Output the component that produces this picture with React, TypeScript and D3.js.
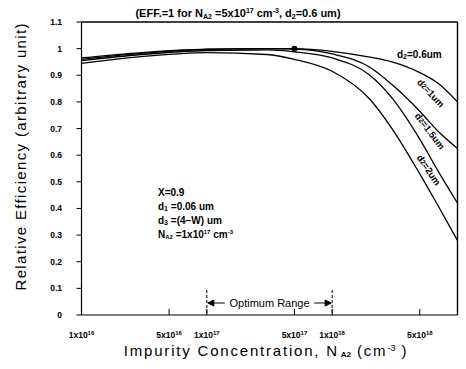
import React from "react";
import * as d3 from "d3";

const conc = [1e16, 3e16, 1e17, 3e17, 5e17, 1e18, 2e18, 3e18, 5e18, 7e18, 1e19];
const eff06 = [0.965, 0.985, 0.998, 1.0, 1.0, 0.99, 0.968, 0.95, 0.91, 0.87, 0.8];
const eff10 = [0.96, 0.982, 0.997, 1.0, 0.998, 0.98, 0.93, 0.865, 0.765, 0.69, 0.625];
const eff15 = [0.955, 0.978, 0.993, 0.995, 0.988, 0.965, 0.9, 0.815, 0.66, 0.54, 0.42];
const eff20 = [0.945, 0.97, 0.985, 0.978, 0.96, 0.915, 0.81, 0.7, 0.53, 0.41, 0.28];

const yTicks = [0, 0.1, 0.2, 0.3, 0.4, 0.5, 0.6, 0.7, 0.8, 0.9, 1, 1.1];
const xTickVals = [1e16, 5e16, 1e17, 5e17, 1e18, 5e18];
const xTickMant = ["1", "5", "1", "5", "1", "5"];
const xTickExp = ["16", "16", "17", "17", "18", "18"];
const refPoint = { n: 5e17, v: 1.0 };
const optimum = [1e17, 1e18];

const W = 466, H = 369;
const L = 81.5, R = 457.5, T = 22, B = 315;

export default function App() {
  const x = d3.scaleLog().domain([1e16, 1e19]).range([L, R]);
  const y = d3.scaleLinear().domain([0, 1.1]).range([B, T]);
  const line = d3
    .line<[number, number]>()
    .x((d) => x(d[0]))
    .y((d) => y(d[1]))
    .curve(d3.curveMonotoneX);
  const series = [eff06, eff10, eff15, eff20];
  const font = "'Liberation Sans', Arial, sans-serif";
  const tf = { fontFamily: font, fontWeight: 700, fontSize: 8.5 } as const;
  const lab = { fontFamily: font, fontSize: 9.5, fontWeight: 700, textAnchor: "middle", dominantBaseline: "central" } as const;

  return (
    <svg width={W} height={H} style={{ position: "absolute", left: 0, top: 0, background: "#fff" }}>
      <rect x={0} y={0} width={W} height={H} fill="#fff" />
      {/* title */}
      <text x={238} y={17} textAnchor="middle" fontFamily={font} fontSize={11} fontWeight={700}>
        (EFF.=1 for N<tspan fontSize={7} dy={2}>A2</tspan>
        <tspan dy={-2}> =5x10</tspan>
        <tspan fontSize={7} dy={-4}>17</tspan>
        <tspan dy={4}> cm</tspan>
        <tspan fontSize={7} dy={-4}>-3</tspan>
        <tspan dy={4}>, d</tspan>
        <tspan fontSize={7} dy={2}>2</tspan>
        <tspan dy={-2}>=0.6 um)</tspan>
      </text>

      {/* frame */}
      <g stroke="#000" fill="none">
        <line x1={L} x2={R} y1={T} y2={T} strokeWidth={1.6} />
        <line x1={R} x2={R} y1={T} y2={B} strokeWidth={1.4} />
        <line x1={L} x2={L} y1={T} y2={B} strokeWidth={1.2} />
        <line x1={L} x2={R} y1={B} y2={B} strokeWidth={1.2} />
      </g>

      {/* y ticks */}
      {yTicks.map((t) => (
        <g key={t}>
          <line x1={L - 5} x2={L} y1={y(t)} y2={y(t)} stroke="#000" strokeWidth={1} />
          <text x={62} y={y(t) + 3} textAnchor="end" {...tf}>
            {t === 0 ? "0" : d3.format("~g")(t)}
          </text>
        </g>
      ))}

      {/* x ticks */}
      {xTickVals.map((t, i) => (
        <g key={t}>
          <line x1={x(t)} x2={x(t)} y1={B} y2={B - 6} stroke="#000" strokeWidth={1} />
          <text x={x(t)} y={338} textAnchor="middle" {...tf}>
            {xTickMant[i]}x10
            <tspan fontSize={6} dy={-3}>{xTickExp[i]}</tspan>
          </text>
        </g>
      ))}

      {/* curves */}
      {series.map((s, i) => (
        <path
          key={i}
          d={line(conc.map((c, j) => [c, s[j]] as [number, number])) || ""}
          fill="none"
          stroke="#000"
          strokeWidth={1.3}
        />
      ))}
      <circle cx={x(refPoint.n)} cy={y(refPoint.v)} r={3} fill="#000" />

      {/* curve labels */}
      <text x={397} y={58} fontFamily={font} fontSize={10} fontWeight={700}>
        d<tspan fontSize={7} dy={1}>2</tspan>
        <tspan dy={-1}>=0.6um</tspan>
      </text>
      <text transform="translate(431,93) rotate(47)" {...lab}>
        d<tspan fontSize={7}>2</tspan>=1um
      </text>
      <text transform="translate(430,131) rotate(53)" {...lab}>
        d<tspan fontSize={7}>2</tspan>=1.5um
      </text>
      <text transform="translate(429,170) rotate(56)" {...lab}>
        d<tspan fontSize={7}>2</tspan>=2um
      </text>

      {/* parameter block */}
      <g fontFamily={font} fontSize={10} fontWeight={700}>
        <text x={158} y={196}>X=0.9</text>
        <text x={158} y={210}>
          d<tspan fontSize={7} dy={1}>1</tspan>
          <tspan dy={-1}> =0.06  um</tspan>
        </text>
        <text x={158} y={224}>
          d<tspan fontSize={7} dy={1}>3</tspan>
          <tspan dy={-1}> =(4−W)  um</tspan>
        </text>
        <text x={158} y={238}>
          N<tspan fontSize={6} dy={1}>A2</tspan>
          <tspan dy={-1}> =1x10</tspan>
          <tspan fontSize={6} dy={-4}>17</tspan>
          <tspan dy={4}>  cm</tspan>
          <tspan fontSize={6} dy={-4}>-3</tspan>
        </text>
      </g>

      {/* optimum range */}
      {optimum.map((o) => (
        <line key={o} x1={x(o)} x2={x(o)} y1={290} y2={B} stroke="#000" strokeWidth={1} strokeDasharray="3,2" />
      ))}
      <g stroke="#000" strokeWidth={1} fill="#000">
        <line x1={x(optimum[0]) + 1} x2={x(optimum[0]) + 18} y1={303} y2={303} />
        <path d={`M${x(optimum[0]) + 1},303 l6,-3 l0,6 z`} />
        <line x1={x(optimum[1]) - 18} x2={x(optimum[1]) - 1} y1={303} y2={303} />
        <path d={`M${x(optimum[1]) - 1},303 l-6,-3 l0,6 z`} />
      </g>
      <text x={(x(optimum[0]) + x(optimum[1])) / 2} y={307} textAnchor="middle" fontFamily={font} fontSize={11}>
        Optimum Range
      </text>

      {/* axis titles */}
      <text x={266} y={356} textAnchor="middle" fontFamily={font} fontSize={15} letterSpacing={1.8}>
        Impurity Concentration, N
        <tspan fontSize={8} fontWeight={700} letterSpacing={0} dy={1}> A2</tspan>
        <tspan dy={-1}> (cm</tspan>
        <tspan fontSize={9} dy={-5} letterSpacing={0}>-3</tspan>
        <tspan dy={5}> )</tspan>
      </text>
      <text
        transform="translate(26,157) rotate(-90)"
        textAnchor="middle"
        fontFamily={font}
        fontSize={15}
        textLength={267}
        lengthAdjust="spacing"
      >
        Relative Efficiency (arbitrary unit)
      </text>
    </svg>
  );
}
